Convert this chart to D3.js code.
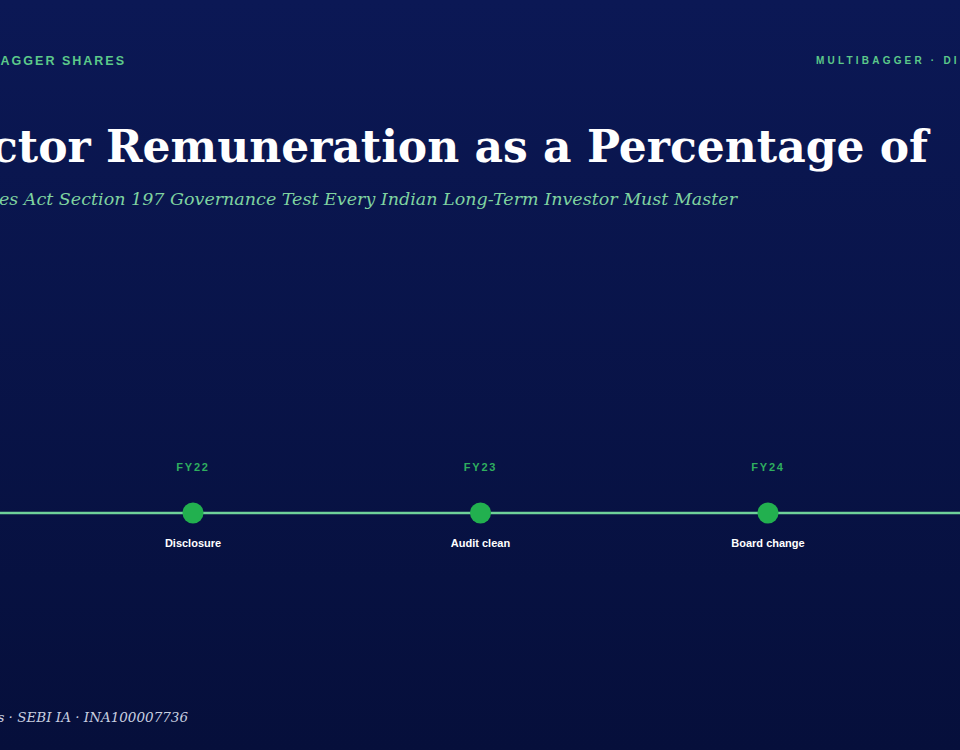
<!DOCTYPE html>
<html><head><meta charset="utf-8">
<script src="https://cdn.jsdelivr.net/npm/d3@7"></script>
<style>html,body{margin:0;padding:0;background:#08134a;overflow:hidden}</style>
</head><body>
<svg id="c" width="960" height="750"></svg>
<script>
const years = ["FY22","FY23","FY24"];
const events = ["Disclosure","Audit clean","Board change"];
const title = "Director Remuneration as a Percentage of";
const subtitle = "The Companies Act Section 197 Governance Test Every Indian Long-Term Investor Must Master";
const brand = "MULTIBAGGER SHARES";
const brandRight = "MULTIBAGGER · DIRECTOR REMUNERATION";
const footer = "Multibagger Shares · SEBI IA · INA100007736";

const svg = d3.select("#c");
const defs = svg.append("defs");
const g = defs.append("linearGradient").attr("id","bg").attr("x1",0).attr("y1",0).attr("x2",0).attr("y2",1);
g.append("stop").attr("offset","0%").attr("stop-color","#0b1855");
g.append("stop").attr("offset","100%").attr("stop-color","#060f3b");
svg.append("rect").attr("width",960).attr("height",750).attr("fill","url(#bg)");

svg.append("text").attr("x",126).attr("y",65).attr("text-anchor","end")
  .attr("font-family","Liberation Sans, Arial").attr("font-weight","bold").attr("font-size",12.5)
  .attr("letter-spacing","2px").attr("fill","#5cc98a").text(brand);
svg.append("text").attr("x",816).attr("y",64)
  .attr("font-family","Liberation Sans, Arial").attr("font-weight","bold").attr("font-size",10)
  .attr("letter-spacing","3.2px").attr("fill","#5cc98a").text(brandRight);
svg.append("text").attr("x",928).attr("y",162).attr("text-anchor","end")
  .attr("font-family","DejaVu Serif, serif").attr("font-weight","bold").attr("font-size",44)
  .attr("fill","#ffffff").text(title);
svg.append("text").attr("x",737).attr("y",205).attr("text-anchor","end")
  .attr("font-family","DejaVu Serif, serif").attr("font-style","italic").attr("font-size",17.5)
  .attr("fill","#7fd3a0").text(subtitle);
svg.append("text").attr("x",188).attr("y",722).attr("text-anchor","end")
  .attr("font-family","DejaVu Serif, serif").attr("font-style","italic").attr("font-size",13.5)
  .attr("fill","#c9cfe0").text(footer);

const x = d3.scalePoint().domain(years).range([193,768]);
const ly = 513;
svg.append("line").attr("x1",0).attr("x2",960).attr("y1",ly).attr("y2",ly)
  .attr("stroke","#6fd29a").attr("stroke-width",2.5);
svg.selectAll("circle.d").data(years).join("circle")
  .attr("cx",d=>x(d)).attr("cy",ly).attr("r",10.5).attr("fill","#22b04f");
svg.selectAll("text.y").data(years).join("text")
  .attr("x",d=>x(d)).attr("y",471).attr("text-anchor","middle")
  .attr("font-family","Liberation Sans, Arial").attr("font-weight","bold").attr("font-size",11)
  .attr("letter-spacing","1.8px").attr("fill","#2fae5f").text(d=>d);
svg.selectAll("text.e").data(years).join("text")
  .attr("x",d=>x(d)).attr("y",547).attr("text-anchor","middle")
  .attr("font-family","Liberation Sans, Arial").attr("font-weight","bold").attr("font-size",11)
  .attr("fill","#ffffff").text((d,i)=>events[i]);
</script>
</body></html>
